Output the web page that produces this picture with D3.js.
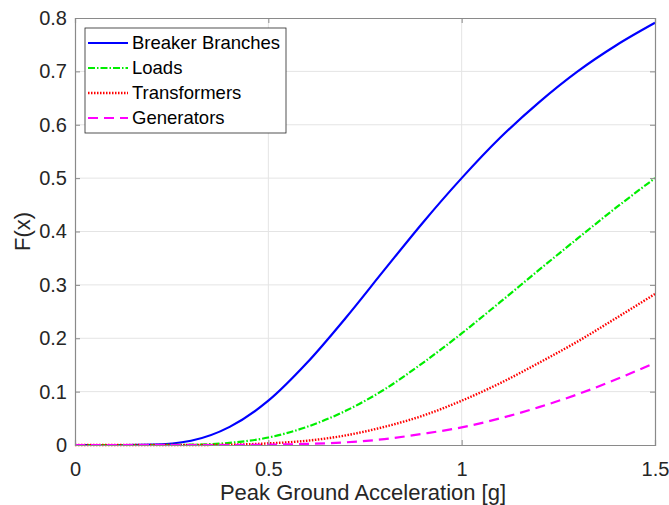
<!DOCTYPE html>
<html>
<head>
<meta charset="utf-8">
<script src="https://cdn.jsdelivr.net/npm/d3@7"></script>
<style>
  body { margin: 0; background: #fff; }
  text { font-family: "Liberation Sans", Arial, sans-serif; }
</style>
</head>
<body>
<svg width="669" height="505"></svg>
<script>
// values
var pga = [0, 0.1, 0.2, 0.3, 0.4, 0.5, 0.6, 0.7, 0.8, 0.9, 1.0, 1.1, 1.2, 1.3, 1.4, 1.5];
var breakerBranches = [0, 0, 0.0006, 0.008, 0.034, 0.083, 0.154, 0.238, 0.328, 0.417, 0.5, 0.576, 0.642, 0.700, 0.749, 0.791];
var loads = [0, 0, 0, 0.0006, 0.004, 0.014, 0.034, 0.064, 0.104, 0.154, 0.209, 0.268, 0.328, 0.387, 0.445, 0.5];
var transformers = [0, 0, 0, 0, 0.0006, 0.003, 0.008, 0.018, 0.034, 0.055, 0.083, 0.116, 0.154, 0.194, 0.238, 0.283];
var generators = [0, 0, 0, 0, 0, 0.0006, 0.002, 0.005, 0.011, 0.021, 0.033, 0.050, 0.071, 0.095, 0.123, 0.154];

var xTicks = [0, 0.5, 1, 1.5];
var yTicks = [0, 0.1, 0.2, 0.3, 0.4, 0.5, 0.6, 0.7, 0.8];

var series = [
    {name: "Breaker Branches", values: breakerBranches, color: "#0000ff", dash: null, width: 2.2},
    {name: "Loads", values: loads, color: "#00ee00", dash: "7,2,1.5,2", width: 2.2},
    {name: "Transformers", values: transformers, color: "#ff0000", dash: "1.5,1.5", width: 2.4},
    {name: "Generators", values: generators, color: "#ff00ff", dash: "10,6", width: 2.2}
];

var svg = d3.select("svg");
var mLeft = 75, mRight = 655, mTop = 18, mBottom = 445;

var x = d3.scaleLinear().domain([0, 1.5]).range([mLeft, mRight]);
var y = d3.scaleLinear().domain([0, 0.8]).range([mBottom, mTop]);

// grid
svg.append("g").selectAll("line")
    .data(xTicks.slice(1, -1))
    .enter().append("line")
    .attr("x1", function (d) { return x(d); })
    .attr("x2", function (d) { return x(d); })
    .attr("y1", mTop).attr("y2", mBottom)
    .attr("stroke", "#e4e4e4").attr("stroke-width", 1);
svg.append("g").selectAll("line")
    .data(yTicks.slice(1, -1))
    .enter().append("line")
    .attr("x1", mLeft).attr("x2", mRight)
    .attr("y1", function (d) { return y(d); })
    .attr("y2", function (d) { return y(d); })
    .attr("stroke", "#e4e4e4").attr("stroke-width", 1);

// curves
var line = d3.line()
    .x(function (d) { return x(d[0]); })
    .y(function (d) { return y(d[1]); })
    .curve(d3.curveMonotoneX);

series.forEach(function (s) {
    svg.append("path")
        .datum(pga.map(function (p, i) { return [p, s.values[i]]; }))
        .attr("fill", "none")
        .attr("stroke", s.color)
        .attr("stroke-width", s.width)
        .attr("stroke-dasharray", s.dash)
        .attr("d", line);
});

// axes (ticks inside, box all round)
var axisColor = "#8a8a8a";
function styleAxis(g) {
    g.select(".domain").attr("stroke", axisColor).attr("stroke-width", 1.2);
    g.selectAll(".tick line").attr("stroke", axisColor);
    g.selectAll(".tick text").attr("fill", "#262626").attr("font-size", 20)
        .attr("font-family", "Liberation Sans, Arial, sans-serif");
}

svg.append("g").attr("transform", "translate(0," + mBottom + ")")
    .call(d3.axisBottom(x).tickValues(xTicks).tickSize(-5).tickPadding(17).tickFormat(d3.format("")))
    .call(styleAxis);
svg.append("g").attr("transform", "translate(" + mLeft + ",0)")
    .call(d3.axisLeft(y).tickValues(yTicks).tickSize(-5).tickPadding(8).tickFormat(d3.format("")))
    .call(styleAxis);
svg.append("g").attr("transform", "translate(0," + mTop + ")")
    .call(d3.axisTop(x).tickValues(xTicks).tickSize(-5).tickFormat(""))
    .call(styleAxis);
svg.append("g").attr("transform", "translate(" + mRight + ",0)")
    .call(d3.axisRight(y).tickValues(yTicks).tickSize(-5).tickFormat(""))
    .call(styleAxis);

// axis titles
svg.append("text")
    .attr("x", 363).attr("y", 500)
    .attr("text-anchor", "middle").attr("font-size", 22).attr("fill", "#262626")
    .text("Peak Ground Acceleration [g]");
svg.append("text")
    .attr("transform", "translate(30," + ((mTop + mBottom) / 2) + ") rotate(-90)")
    .attr("text-anchor", "middle").attr("font-size", 22).attr("fill", "#262626")
    .text("F(x)");

// legend
var lg = svg.append("g").attr("transform", "translate(85,28)");
lg.append("rect").attr("width", 201).attr("height", 105)
    .attr("fill", "#fff").attr("stroke", "#262626").attr("stroke-width", 0.8);
var item = lg.selectAll("g.item").data(series).enter().append("g")
    .attr("class", "item")
    .attr("transform", function (d, i) { return "translate(0," + (15 + i * 25) + ")"; });
item.append("line")
    .attr("x1", 3).attr("x2", 43)
    .attr("stroke", function (d) { return d.color; })
    .attr("stroke-width", function (d) { return d.width; })
    .attr("stroke-dasharray", function (d) { return d.dash; });
item.append("text")
    .attr("x", 47).attr("y", 6)
    .attr("font-size", 18.5).attr("fill", "#000")
    .text(function (d) { return d.name; });
</script>
</body>
</html>
